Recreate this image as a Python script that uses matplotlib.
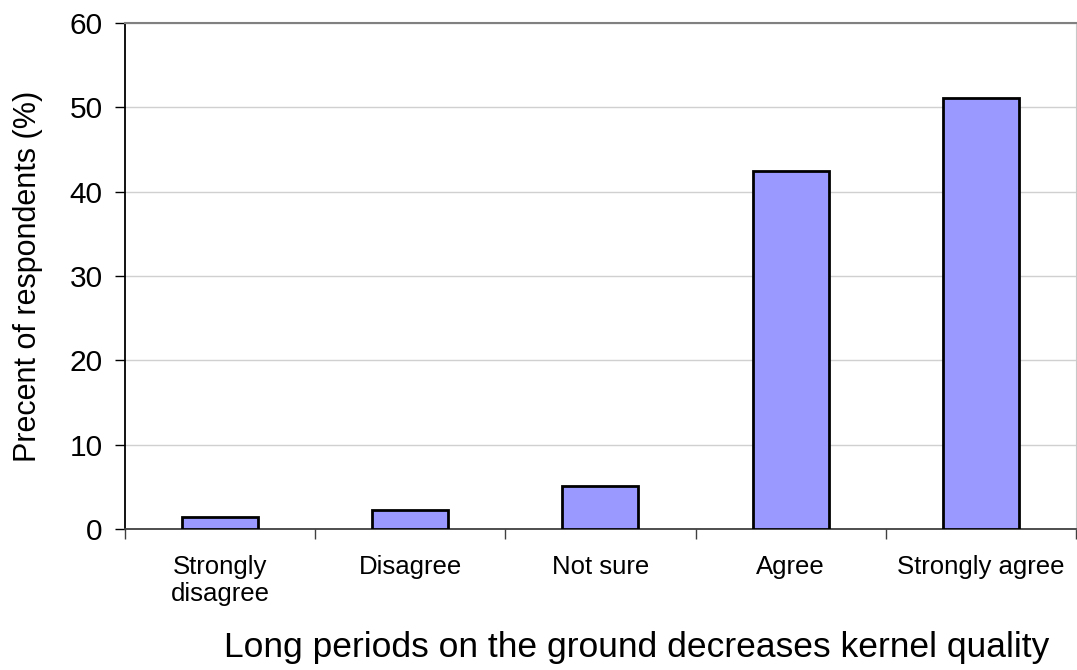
import matplotlib.pyplot as plt
import numpy as np

plt.rcParams['font.family'] = ['Liberation Sans', 'DejaVu Sans']

# Survey answers and percentages
categories = ['Strongly\ndisagree', 'Disagree', 'Not sure', 'Agree', 'Strongly agree']
percents = [1.4, 2.2, 5.1, 42.5, 51.1]

fig = plt.figure(figsize=(10.77, 6.70), dpi=100)
ax = fig.add_axes([0.116, 0.2104, 0.883, 0.7553])

x = np.arange(len(categories))
ax.bar(x, percents, width=0.4, color='#9999ff', edgecolor='black', linewidth=2, zorder=3)

ax.set_xlim(-0.5, len(categories) - 0.5)
ax.set_ylim(0, 60)
ax.set_yticks(range(0, 61, 10))
ax.yaxis.grid(True, color='#d0d0d0', linewidth=1, zorder=0)

# category labels between boundary ticks
ax.set_xticks(np.arange(-0.5, len(categories), 1.0))
ax.set_xticklabels([])
ax.set_xticks(x, minor=True)
ax.set_xticklabels(categories, minor=True, fontsize=18.5, linespacing=1.15)
ax.tick_params(axis='x', which='minor', length=0, pad=19)
ax.tick_params(axis='x', which='major', length=7, width=1, color='#404040', direction='out')
ax.tick_params(axis='y', length=7, width=1, labelsize=21.5, direction='out', pad=9)

ax.spines['left'].set_color('black')
ax.spines['left'].set_linewidth(1.3)
ax.spines['bottom'].set_color('#404040')
ax.spines['bottom'].set_linewidth(1.3)
ax.spines['top'].set_color('#808080')
ax.spines['top'].set_linewidth(1.5)
ax.spines['right'].set_color('#c8c8c8')

ax.set_ylabel('Precent of respondents (%)', fontsize=22, labelpad=19)
ax.set_xlabel('Long periods on the ground decreases kernel quality', fontsize=25.5, labelpad=18)
# x title sits a little right of the axes centre
ax.xaxis.label.set_x(0.538)

fig.savefig('out.png', dpi=100)
